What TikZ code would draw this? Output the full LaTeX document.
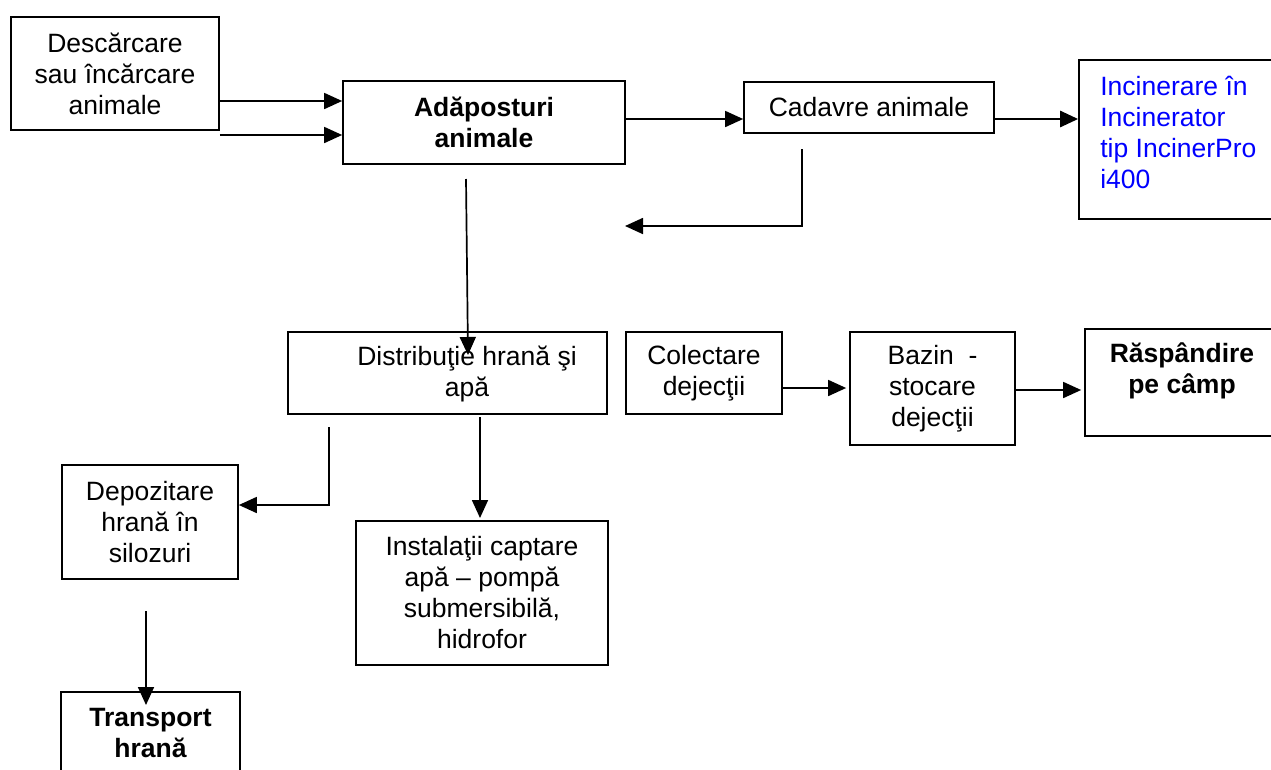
\documentclass[tikz,border=0pt]{standalone}
\usepackage{fontspec}
\setmainfont{Liberation Sans}
\usetikzlibrary{arrows.meta}
\begin{document}
\begin{tikzpicture}[x=1pt,y=-1pt,
  font=\fontsize{26.5}{31}\selectfont,
  bf/.style={font=\fontsize{26.5}{31}\selectfont\bfseries},
  box/.style={draw, line width=1.7pt, inner sep=0pt, align=center},
  lbl/.style={inner sep=0pt, align=center},
  arr/.style={line width=1.7pt, -{Triangle[length=18pt,width=16pt]}}]
\useasboundingbox (0,0) rectangle (1271,769);
\clip (0,0) rectangle (1271,769);

% boxes
\node[box, minimum width=208pt, minimum height=113pt] (d) at (115,73.5) {Descărcare\\sau încărcare\\animale};
\node[box, bf, minimum width=282pt, minimum height=83pt] (a) at (484,122.5) {Adăposturi\\animale};
\node[box, minimum width=250pt, minimum height=51pt] (c) at (869,107.5) {Cadavre animale};
\node[box, minimum width=240pt, minimum height=159pt,
  label={[lbl,text=blue,align=left,anchor=west,xshift=22pt,yshift=7.5pt]west:{Incinerare în\\Incinerator\\tip IncinerPro\\i400}}] (i) at (1199,139.5) {};
\node[box, minimum width=319pt, minimum height=82pt,
  label={[lbl,xshift=19.5pt,yshift=-0.5pt]center:{Distribuţie hrană şi\\apă}}] (s) at (447.5,373) {};
\node[box, minimum width=156pt, minimum height=82pt] (col) at (704,373) {Colectare\\dejecţii};
\node[box, minimum width=165pt, minimum height=113pt] (baz) at (932.5,388.5) {Bazin~ -\\stocare\\dejecţii};
\node[box, minimum width=194pt, minimum height=107pt,
  label={[lbl,bf,yshift=11.5pt]center:{Răspândire\\pe câmp}}] (r) at (1182,382.5) {};
\node[box, minimum width=176pt, minimum height=114pt] (dep) at (150,522) {Depozitare\\hrană în\\silozuri};
\node[box, minimum width=252pt, minimum height=144pt] (ins) at (482,593) {Instalaţii captare\\apă – pompă\\submersibilă,\\hidrofor};
\node[box, minimum width=179pt, minimum height=98pt,
  label={[lbl,bf,yshift=8pt]center:{Transport\\hrană}}] (t) at (150.5,741) {};

% helper coordinates
\coordinate (ka) at (0,101);
\coordinate (kb) at (0,135);
\coordinate (kc) at (0,119);
\coordinate (p1) at (802,149);
\coordinate (p2) at (802,226);
\coordinate (p3) at (625,226);
\coordinate (q1) at (466,179);
\coordinate (q2) at (468,355);
\coordinate (u1) at (329,427);
\coordinate (u2) at (329,505);
\coordinate (v1) at (480,417);
\coordinate (v2) at (480,518);
\coordinate (w1) at (146,611);
\coordinate (w2) at (146,705);
\coordinate (m1) at (0,388);
\coordinate (m2) at (0,390);

% connectors
\draw[arr] (d.east |- ka) -- (a.west |- ka);
\draw[arr] (d.east |- kb) -- (a.west |- kb);
\draw[arr] (a.east |- kc) -- (c.west |- kc);
\draw[arr, line width=2.7pt] (c.east |- kc) -- (i.west |- kc);
\draw[arr] (p1) -- (p2) -- (p3);
\draw[arr] (q1) -- (q2);
\draw[arr] (u1) -- (u2) -- (dep.east |- u2);
\draw[arr] (v1) -- (v2);
\draw[arr] (col.east |- m1) -- ([xshift=-3pt]baz.west |- m1);
\draw[arr] (baz.east |- m2) -- ([xshift=-3pt]r.west |- m2);
\draw[arr] (w1) -- (w2);
\end{tikzpicture}
\end{document}
